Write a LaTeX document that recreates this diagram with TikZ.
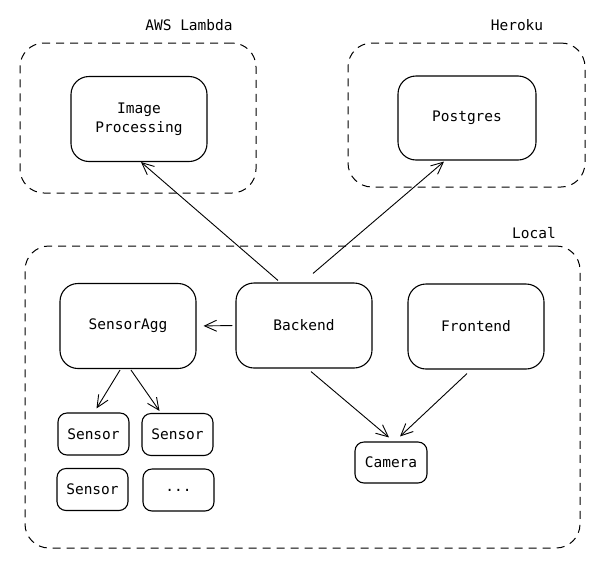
\documentclass[tikz,border=0pt]{standalone}
\usepackage{fontspec}
\setmonofont{DejaVu Sans Mono}
\usetikzlibrary{arrows.meta,positioning}

\tikzset{
  svc/.style={draw, rounded corners=18pt, line width=1.1pt, inner sep=0pt,
    minimum width=136pt, minimum height=85pt, align=center},
  small/.style={draw, rounded corners=9pt, line width=1.1pt, inner sep=0pt,
    minimum width=71pt, minimum height=42pt},
  group/.style={draw, dashed, dash pattern=on 8pt off 6pt, rounded corners=24pt,
    line width=1pt, inner sep=0pt},
  call/.style={-{Straight Barb[length=12pt,width=11pt]}, line width=0.9pt}
}

\begin{document}
\begin{tikzpicture}[x=1pt, y=-1pt, font=\ttfamily\fontsize{14.5}{19}\selectfont]
\useasboundingbox (0,0) rectangle (609,565);
   \begin{scope}
% groups
\node[group, minimum width=236pt, minimum height=150pt] (aws) at (138,118) {};
\node[group, minimum width=237pt, minimum height=144pt] (heroku) at (466.5,115) {};
\node[group, minimum width=555pt, minimum height=302pt] (local) at (302.5,397) {};
\node (awslabel) at (189,25) {AWS Lambda};
\node (herokulabel) at (517,25) {Heroku};
\node (locallabel) at (534,233) {Local};
% services
\node[svc] (imgproc) at (139,119) {Image\\Processing};
\node[svc, minimum width=138pt, minimum height=84pt] (postgres) at (467,118) {Postgres};
\node[svc] (sensoragg) at (128,326) {SensorAgg};
\node[svc] (backend) at (304,325.5) {Backend};
\node[svc] (frontend) at (476,326.5) {Frontend};
\node[small, minimum width=72pt, minimum height=41pt] (camera) at (391,462.5) {Camera};
\node[small] (sensora) at (93.5,434) {Sensor};
\node[small] (sensorb) at (177.5,434.5) {Sensor};
\node[small] (sensorc) at (92.5,489.5) {Sensor};
\node[small] (more) at (178.5,490) {...};
% calls
\draw[call] ([xshift=-26pt,yshift=2pt]backend.north) -- ([xshift=2pt]imgproc.south);
\draw[call] ([xshift=9pt,yshift=9pt]backend.north) -- ([xshift=-23pt,yshift=-1pt]postgres.south);
\draw[call, shorten >=7pt, shorten <=3pt] (backend.west) -- (sensoragg.east);
\draw[call] ([xshift=-8pt,yshift=-1pt]sensoragg.south) -- ([xshift=3pt,yshift=4pt]sensora.north);
\draw[call] ([xshift=3pt,yshift=-1pt]sensoragg.south) -- ([xshift=-18pt,yshift=2pt]sensorb.north);
\draw[call] ([xshift=7pt,yshift=-3pt]backend.south) -- ([xshift=-2pt,yshift=4pt]camera.north);
\draw[call] ([xshift=-9pt,yshift=-4pt]frontend.south) -- ([xshift=9pt,yshift=5pt]camera.north);
  \end{scope}
\end{tikzpicture}
\end{document}
